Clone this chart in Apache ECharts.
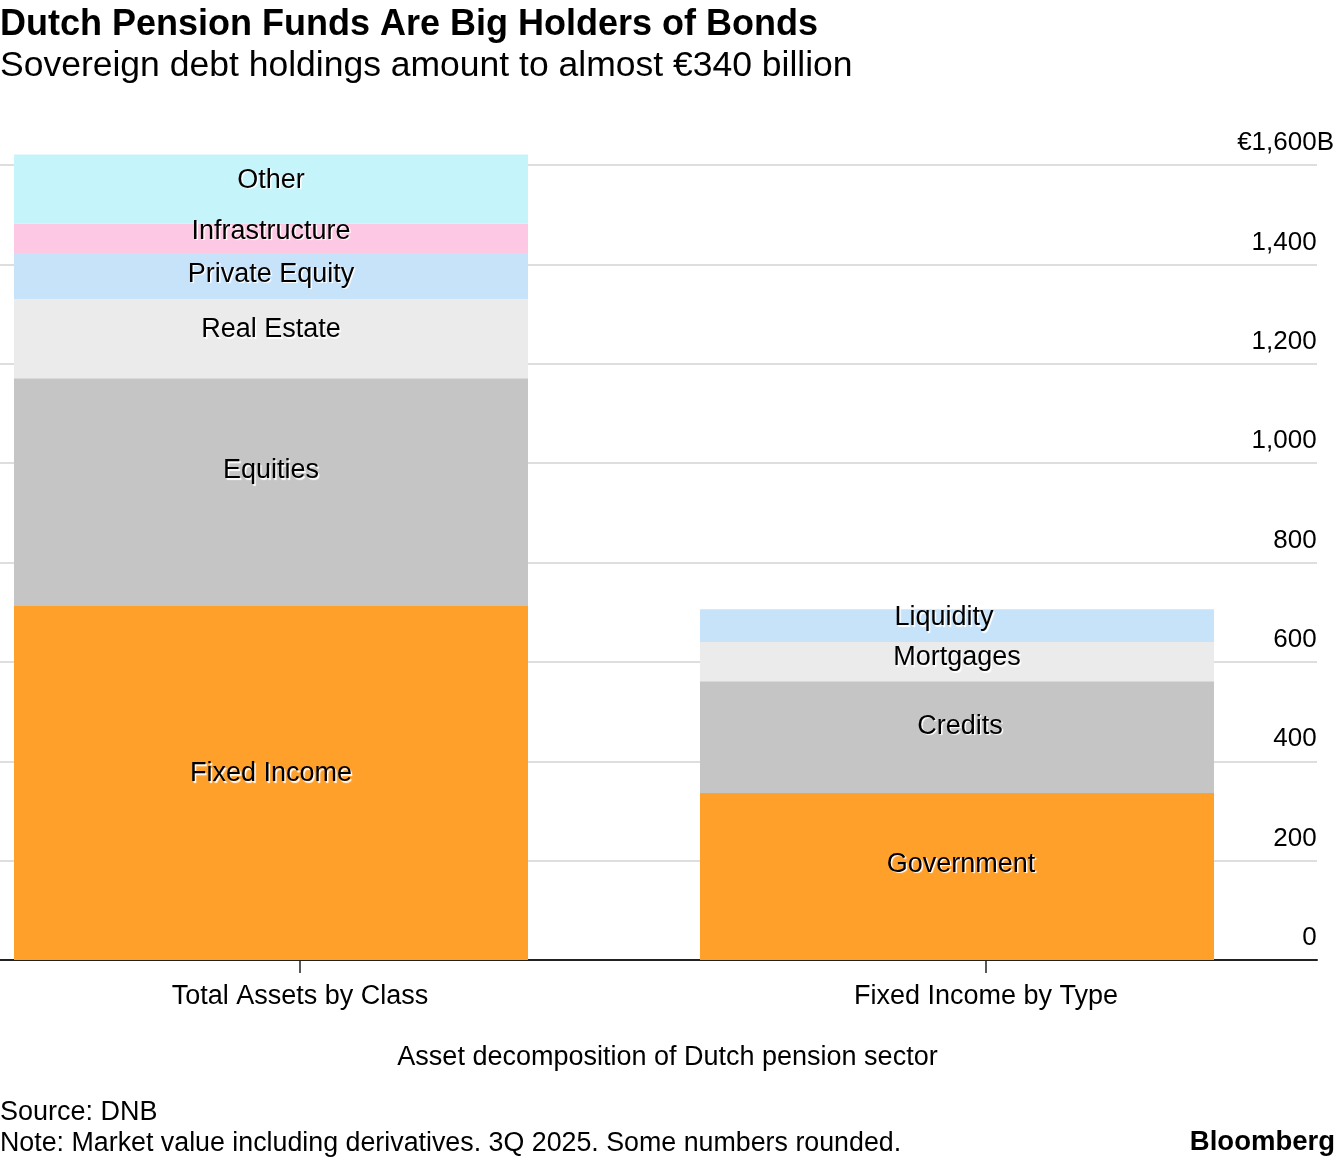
<!DOCTYPE html>
<html>
<head>
<meta charset="utf-8">
<script src="https://cdn.jsdelivr.net/npm/echarts@6/dist/echarts.min.js"></script>
<style>
  html, body { margin: 0; padding: 0; background: #fff; }
  #chart { width: 1337px; height: 1160px; }
</style>
</head>
<body>
<div id="chart"></div>
<script>
// ---- Data ----
const categories = ['Total Assets by Class', 'Fixed Income by Type'];
const assetClasses = ['Fixed Income', 'Equities', 'Real Estate', 'Private Equity', 'Infrastructure', 'Other'];
const assetValues = [714, 457, 159, 93, 59, 139];
const incomeTypes = ['Government', 'Credits', 'Mortgages', 'Liquidity'];
const incomeValues = [336, 225, 79, 66];
const yMin = 0, yMax = 1600, yStep = 200;

// ---- Styles ----
const FONT = "'Liberation Sans', Arial, sans-serif";
const assetColors = ['#ffa02a', '#c5c5c5', '#ebebeb', '#c7e3fa', '#fcc8e3', '#c5f4fa'];
const assetLabelOffsets = [[0, -9], [0, -21], [0, -9], [0, -2], [0, -7], [0, -9]];
const incomeColors = ['#ffa02a', '#c5c5c5', '#ebebeb', '#c7e3fa'];
const incomeLabelOffsets = [[4, -12], [3, -11], [0, -4], [-13, -8]];

const labelStyle = {
  show: true,
  position: 'inside',
  fontFamily: FONT,
  fontSize: 27,
  color: '#000',
  textShadowColor: '#fff',
  textShadowBlur: 1,
  textShadowOffsetX: 1.5,
  textShadowOffsetY: 1.5
};

const series = [];
assetClasses.forEach((name, i) => {
  series.push({
    name, type: 'bar', stack: 'main', xAxisIndex: 1, yAxisIndex: 1,
    barWidth: 514, barGap: 0, clip: false,
    itemStyle: { color: assetColors[i] },
    label: Object.assign({}, labelStyle, { formatter: name, offset: assetLabelOffsets[i] }),
    emphasis: { disabled: true },
    data: [assetValues[i], '-']
  });
});
incomeTypes.forEach((name, i) => {
  series.push({
    name, type: 'bar', stack: 'main', xAxisIndex: 1, yAxisIndex: 1,
    barWidth: 514, barGap: 0, clip: false,
    itemStyle: { color: incomeColors[i] },
    label: Object.assign({}, labelStyle, { formatter: name, offset: incomeLabelOffsets[i] }),
    emphasis: { disabled: true },
    data: ['-', incomeValues[i]]
  });
});
// invisible spacer stack that shifts the visible bars left of the tick
series.push({
  name: 'spacer', type: 'bar', stack: 'spacer', xAxisIndex: 1, yAxisIndex: 1,
  barWidth: 58, barGap: 0, silent: true, clip: false,
  itemStyle: { color: 'rgba(0,0,0,0)' },
  data: [0, 0]
});

const chart = echarts.init(document.getElementById('chart'), null, { renderer: 'canvas' });
chart.setOption({
  animation: false,
  backgroundColor: '#fff',
  textStyle: { fontFamily: FONT },
  title: [
    { text: 'Dutch Pension Funds Are Big Holders of Bonds', left: 0, top: 3, padding: 0,
      textStyle: { fontFamily: FONT, fontSize: 36, fontWeight: 'bold', color: '#000', lineHeight: 44 } },
    { text: 'Sovereign debt holdings amount to almost €340 billion', left: 0, top: 44, padding: 0,
      textStyle: { fontFamily: FONT, fontSize: 35.5, fontWeight: 'normal', color: '#000', lineHeight: 44 } },
    { text: 'Source: DNB', left: 0, top: 1095, padding: 0,
      textStyle: { fontFamily: FONT, fontSize: 27, fontWeight: 'normal', color: '#000', lineHeight: 36 } },
    { text: 'Note: Market value including derivatives. 3Q 2025. Some numbers rounded.', left: 0, top: 1126, padding: 0,
      textStyle: { fontFamily: FONT, fontSize: 26.8, fontWeight: 'normal', color: '#000', lineHeight: 36 } },
    { text: 'Bloomberg', right: 2, top: 1124, padding: 0,
      textStyle: { fontFamily: FONT, fontSize: 27.5, fontWeight: 'bold', color: '#000', lineHeight: 36 } }
  ],
  grid: [
    { left: 0, right: 19, top: 165, bottom: 200, containLabel: false },
    { left: 300, width: 686, top: 165, bottom: 200, containLabel: false }
  ],
  xAxis: [
    {
      gridIndex: 0, type: 'value', min: 0, max: 1,
      axisLine: { show: true, lineStyle: { color: '#222', width: 2 } },
      axisTick: { show: false }, axisLabel: { show: false }, splitLine: { show: false },
      name: 'Asset decomposition of Dutch pension sector',
      nameLocation: 'middle', nameGap: 84,
      nameTextStyle: { fontFamily: FONT, fontSize: 27, color: '#000', padding: [0, 0, 0, 18] }
    },
    {
      gridIndex: 1, type: 'category', data: categories, boundaryGap: false,
      axisLine: { show: false },
      axisTick: { show: true, length: 13, lineStyle: { color: '#222', width: 1.5 } },
      axisLabel: { fontFamily: FONT, fontSize: 27, color: '#000', margin: 23 },
      splitLine: { show: false }
    }
  ],
  yAxis: [
    {
      gridIndex: 0, type: 'value', position: 'right', min: yMin, max: yMax, interval: yStep,
      axisLine: { show: false }, axisTick: { show: false },
      splitLine: { show: true, lineStyle: { color: '#d3d3d3', width: 1.5 } },
      axisLabel: {
        inside: true, margin: -17, verticalAlign: 'bottom', padding: [0, 0, 9, 0],
        formatter: function (v) {
          const s = v.toLocaleString('en-US');
          return v === yMax ? '{a|€' + s + 'B}' : '{a|' + s + '}{h|B}';
        },
        rich: {
          a: { fontFamily: FONT, fontSize: 26, color: '#000', lineHeight: 26 },
          h: { fontFamily: FONT, fontSize: 26, color: 'rgba(0,0,0,0)', lineHeight: 26 }
        }
      }
    },
    { gridIndex: 1, type: 'value', min: yMin, max: yMax, interval: yStep, show: false }
  ],
  series
});
</script>
</body>
</html>
